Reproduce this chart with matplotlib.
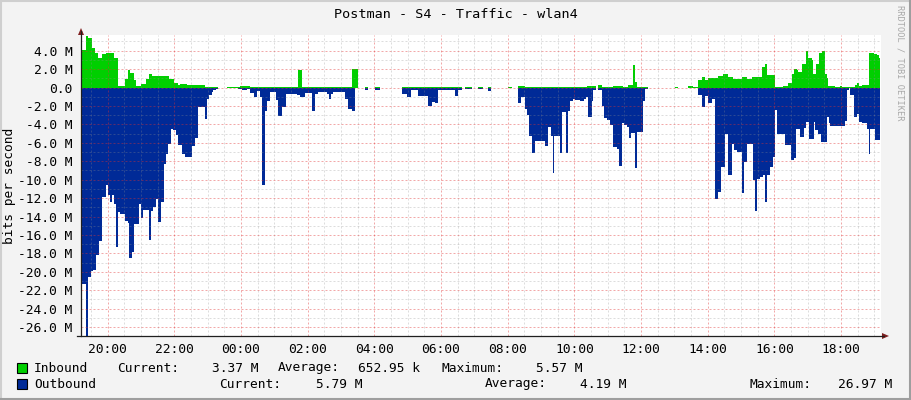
import numpy as np
import matplotlib
matplotlib.use("Agg")
import matplotlib.pyplot as plt
from matplotlib.patches import Rectangle, Polygon

nan = np.nan

# time axis in hours from midnight of the first day (19:12 -> 19:12 next day)
t_start, t_end = 19.2, 43.2

# outbound (negative) step series: segment start times and values in Mbit/s
out_t = [19.20, 19.34, 19.41, 19.50, 19.55, 19.65, 19.75, 19.83, 19.95, 20.00, 20.08, 20.12,
         20.20, 20.25, 20.32, 20.38, 20.52, 20.60, 20.65, 20.72, 20.80, 20.95, 21.00, 21.05,
         21.25, 21.30, 21.35, 21.45, 21.52, 21.60, 21.68, 21.76, 21.82, 21.90, 21.95, 22.05,
         22.12, 22.22, 22.32, 22.52, 22.62, 22.72, 22.92, 22.99, 23.05, 23.12, 23.17, 23.25,
         23.32, 23.57, 23.92, 24.02, 24.17, 24.27, 24.39, 24.49, 24.57, 24.62, 24.72, 24.79,
         24.87, 25.04, 25.11, 25.23, 25.35, 25.67, 25.77, 25.92, 26.12, 26.22, 26.32, 26.57,
         26.64, 26.69, 26.77, 27.12, 27.22, 27.32, 27.42, 27.52, 27.72, 27.81, 28.02, 28.17,
         28.82, 28.97, 29.09, 29.32, 29.62, 29.72, 29.82, 29.92, 30.42, 30.52, 30.62, 30.72,
         30.92, 31.12, 31.27, 31.42, 31.49, 32.02, 32.12, 32.32, 32.40, 32.52, 32.57, 32.65,
         32.72, 32.82, 33.12, 33.22, 33.29, 33.35, 33.40, 33.57, 33.62, 33.75, 33.82, 33.87,
         33.95, 34.02, 34.17, 34.29, 34.35, 34.42, 34.52, 34.57, 34.65, 34.72, 34.82, 34.89,
         34.97, 35.07, 35.17, 35.27, 35.34, 35.42, 35.49, 35.57, 35.64, 35.70, 35.82, 35.89,
         36.05, 36.12, 36.22, 37.02, 37.12, 37.55, 37.72, 37.82, 37.92, 38.02, 38.12, 38.22,
         38.30, 38.39, 38.52, 38.62, 38.72, 38.79, 38.87, 39.02, 39.09, 39.17, 39.35, 39.42,
         39.49, 39.57, 39.65, 39.72, 39.79, 39.87, 39.95, 40.02, 40.09, 40.31, 40.51, 40.58,
         40.65, 40.78, 40.88, 40.95, 41.03, 41.18, 41.23, 41.31, 41.41, 41.58, 41.63, 41.68,
         42.11, 42.18, 42.23, 42.28, 42.38, 42.48, 42.55, 42.63, 42.78, 42.83, 42.88, 43.03,
         43.18]
out_v = [-21.3, -26.97, -20.6, -19.9, -19.8, -18.2, -16.65, -11.9, -10.6, -11.7, -12.4, -11.7,
         -12.6, -17.3, -13.5, -13.7, -14.5, -14.7, -18.5, -17.85, -14.8, -12.6, -14.2, -13.3,
         -16.6, -13.4, -13.0, -12.1, -14.6, -12.4, -8.25, -7.2, -6.1, -4.45, -4.6, -5.2,
         -6.2, -7.2, -7.5, -6.4, -5.5, -2.1, -3.45, -1.2, -0.85, -0.5, -0.3, -0.15,
         nan, -0.1, -0.2, -0.3, -0.2, -0.6, -1.0, -0.35, -1.0, -10.6, -2.6, -1.5,
         -0.5, -1.4, -3.1, -2.1, -0.65, -0.85, -1.0, -0.6, -2.6, -0.65, -0.5, -0.65,
         -1.2, -0.65, -0.5, -1.2, -2.3, -2.5, -0.1, nan, -0.25, nan, -0.25, nan,
         -0.65, -1.0, -0.3, -0.9, -2.0, -1.6, -1.7, -0.25, -0.9, -0.25, nan, -0.2,
         nan, -0.15, nan, -0.4, nan, -0.1, nan, -1.7, -1.0, -2.3, -3.0, -5.3,
         -7.1, -5.8, -6.4, -4.3, -5.3, -9.3, -5.3, -7.1, -2.7, -7.1, -2.5, -1.5,
         -1.2, -1.35, -1.5, -1.2, -1.0, -3.15, -1.5, -0.3, nan, -0.3, -2.0, -3.35,
         -3.5, -4.1, -6.5, -6.7, -8.5, -3.9, -4.1, -4.3, -5.5, -4.9, -8.7, -4.8,
         -1.5, -0.2, nan, -0.1, nan, -0.1, -0.8, -2.15, -0.9, -1.65, -1.2, -12.1,
         -11.35, -8.6, -5.05, -9.5, -6.1, -6.8, -7.0, -11.45, -8.05, -6.1, -10.0, -13.35,
         -9.9, -9.7, -9.5, -12.45, -9.5, -8.6, -7.5, -2.4, -5.0, -6.2, -7.9, -7.6,
         -4.55, -5.4, -4.4, -3.7, -5.6, -3.7, -4.6, -5.0, -5.95, -3.15, -3.85, -4.2,
         -3.6, -0.3, -0.05, -0.85, -3.25, -2.9, -3.7, -3.8, -4.55, -7.2, -4.55, -5.7]

# inbound (positive) step series
in_t = [19.20, 19.34, 19.42, 19.52, 19.62, 19.72, 19.82, 19.95, 20.20, 20.32, 20.52, 20.60,
        20.68, 20.80, 20.85, 21.00, 21.15, 21.25, 21.32, 21.75, 21.85, 22.00, 22.10, 22.17,
        22.37, 22.92, 23.32, 23.57, 23.97, 24.27, 25.72, 25.82, 27.32, 27.52, 27.72, 27.81,
        28.02, 28.17, 28.82, 29.92, 30.62, 30.72, 30.92, 31.12, 31.27, 31.42, 31.49, 32.02,
        32.12, 32.32, 32.52, 34.37, 34.65, 34.72, 34.82, 35.17, 35.46, 35.61, 35.75, 35.82,
        35.88, 36.22, 37.02, 37.12, 37.42, 37.55, 37.72, 37.82, 37.92, 38.02, 38.12, 38.32,
        38.45, 38.62, 38.75, 39.02, 39.17, 39.32, 39.62, 39.72, 39.79, 40.02, 40.27, 40.42,
        40.52, 40.59, 40.67, 40.72, 40.82, 40.95, 41.02, 41.12, 41.17, 41.25, 41.35, 41.42,
        41.52, 41.57, 41.62, 41.82, 41.97, 42.02, 42.23, 42.41, 42.48, 42.55, 42.63, 42.73,
        42.83, 42.98, 43.08, 43.13, 43.18]
in_v = [4.1, 5.57, 5.35, 4.26, 3.7, 3.2, 3.6, 3.8, 3.2, 0.15, 0.9, 1.9,
        1.6, 0.8, 0.2, 0.35, 0.9, 1.5, 1.2, 1.25, 0.9, 0.45, 0.25, 0.38,
        0.25, 0.1, nan, 0.08, 0.12, 0.1, 1.9, 0.1, 2.0, nan, 0.05, nan,
        0.05, nan, 0.1, 0.06, nan, 0.06, nan, 0.05, nan, 0.05, nan, 0.05,
        nan, 0.12, 0.05, 0.15, nan, 0.25, 0.08, 0.15, 0.08, 0.25, 2.45, 0.6,
        0.1, nan, 0.05, nan, 0.15, 0.02, 0.8, 1.1, 0.8, 1.05, 1.0, 1.25,
        1.45, 1.15, 0.9, 1.15, 0.9, 1.15, 2.2, 2.55, 1.35, 0.1, 0.15, 0.5,
        1.5, 2.05, 1.95, 1.7, 2.6, 4.0, 3.2, 3.0, 1.5, 2.6, 3.8, 4.0,
        1.5, 1.0, 0.15, 0.02, 0.15, 0.02, 0.05, 0.25, 0.5, 0.15, 0.25, 0.3,
        3.7, 3.65, 3.5, 3.25]

legend_rows = [
    ("Inbound", "#00CF00", [("Current:", 117), ("3.37 M", 212), ("Average:", 278),
                            ("652.95 k", 358), ("Maximum:", 441), ("5.57 M", 536)]),
    ("Outbound", "#002A97", [("Current:", 219), ("5.79 M", 316), ("Average:", 485),
                             ("4.19 M", 580), ("Maximum:", 750), ("26.97 M", 838)]),
]

W, H = 911, 400
plt.rcParams["font.family"] = ["DejaVu Sans Mono", "DejaVu Sans"]
fs = 9.3

fig = plt.figure(figsize=(W / 100, H / 100), dpi=100, facecolor="#F3F3F3")

# plot canvas: x 81..881, y 35..336 px
ax = fig.add_axes([81 / W, (H - 336) / H, 800 / W, 301 / H])
ax.set_facecolor("white")
ax.set_xlim(t_start, t_end)
ax.set_ylim(-26.97, 5.70)

ax.stairs(in_v, in_t, baseline=0, fill=True, color="#00CF00", lw=0, zorder=2)
ax.stairs(out_v, out_t, baseline=0, fill=True, color="#002A97", lw=0, zorder=2)

# grid (drawn over the areas, semi-transparent like rrdtool)
dots = (0, (2, 2))
for h in np.arange(19.5, 43.2, 0.5):
    if h % 2 != 0:
        ax.axvline(h, color="#8F8F8F", alpha=0.3, lw=0.72, ls=dots, zorder=3)
for v in range(-26, 6):
    if v % 2 != 0:
        ax.axhline(v, color="#8F8F8F", alpha=0.3, lw=0.72, ls=dots, zorder=3)
for h in range(20, 43, 2):
    ax.axvline(h, color="#E03030", alpha=0.42, lw=0.72, ls=dots, zorder=3)
for v in range(-26, 6, 2):
    ax.axhline(v, color="#E03030", alpha=0.42, lw=0.72, ls=dots, zorder=3)

xt = list(range(20, 43, 2))
ax.set_xticks(xt, [f"{h % 24:02d}:00" for h in xt])
yt = list(range(-26, 5, 2))
ax.set_yticks(yt, ["0.0" if v == 0 else f"{v:.1f} M" for v in yt])
ax.tick_params(axis="x", length=0, pad=5, labelsize=fs)
ax.tick_params(axis="y", length=0, pad=6, labelsize=fs)
for s in ax.spines.values():
    s.set_visible(False)

# overlay in pixel coordinates for frame, axes lines, arrows and texts
ov = fig.add_axes([0, 0, 1, 1], facecolor="none")
ov.set_xlim(0, W)
ov.set_ylim(H, 0)
ov.axis("off")

ov.plot([81, 81], [336, 31], color="#1F1F1F", lw=0.9)
ov.plot([77, 884], [336, 336], color="#1F1F1F", lw=0.9)
ov.add_patch(Polygon([[81, 28], [78, 35], [84, 35]], closed=True, color="#7F1F1F", lw=0))
ov.add_patch(Polygon([[889, 336], [882, 333], [882, 339]], closed=True, color="#7F1F1F", lw=0))

# frame shading
ov.plot([0, W], [0.8, 0.8], color="#CFCFCF", lw=1.5)
ov.plot([0.8, 0.8], [0, H], color="#CFCFCF", lw=1.5)
ov.plot([0, W], [H - 1, H - 1], color="#9E9E9E", lw=1.5)
ov.plot([W - 1, W - 1], [0, H], color="#9E9E9E", lw=1.5)

ov.text(455.5, 15, "Postman - S4 - Traffic - wlan4", ha="center", va="center", fontsize=9.7)
ov.text(10, 185.5, "bits per second", rotation=90, ha="center", va="center", fontsize=fs)
ov.text(900, 5, "RRDTOOL / TOBI OETIKER", rotation=-90, ha="center", va="top",
        fontsize=6.2, color="#A8A8A8")

for i, (name, col, items) in enumerate(legend_rows):
    y = 368 + 16 * i
    ov.add_patch(Rectangle((17, y - 5), 10, 10, facecolor=col, edgecolor="black", lw=0.8))
    ov.text(34, y, name, ha="left", va="center", fontsize=fs)
    for txt, x in items:
        ov.text(x, y, txt, ha="left", va="center", fontsize=fs)

fig.savefig("out.png", dpi=100, facecolor=fig.get_facecolor())
